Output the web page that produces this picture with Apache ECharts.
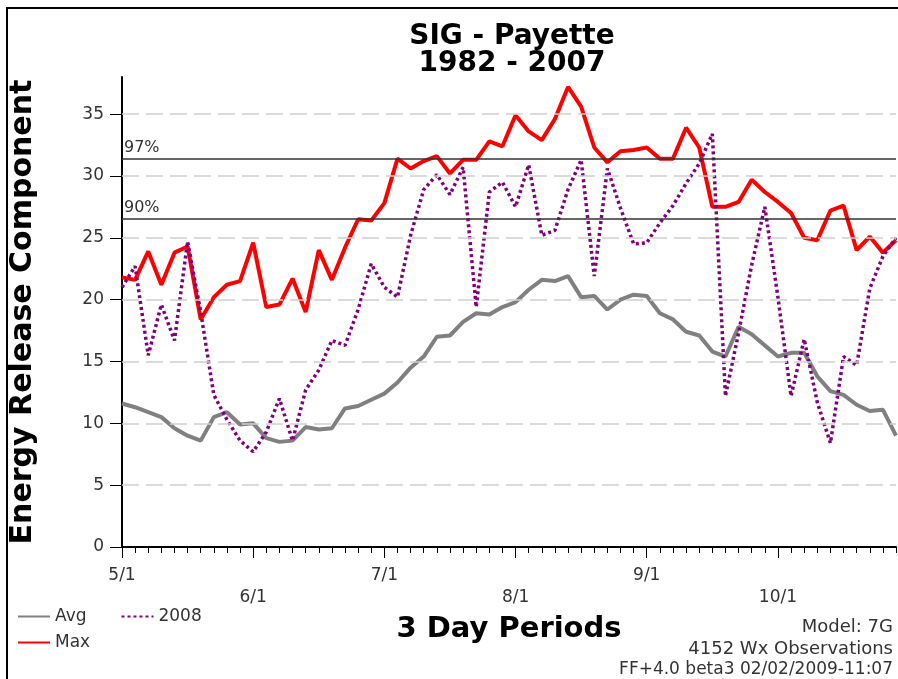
<!DOCTYPE html>
<html>
<head>
<meta charset="utf-8">
<script src="https://cdn.jsdelivr.net/npm/echarts@6/dist/echarts.min.js"></script>
<style>
  html, body { margin: 0; padding: 0; background: #fff; }
  #chart { width: 898px; height: 679px; }
</style>
</head>
<body>
<div id="chart"></div>
<script>
// 3-day periods, May 1 .. end of October
const monthLabels = ["5/1", "6/1", "7/1", "8/1", "9/1", "10/1"];
const periodsPerLabel = 10;

const avg = [11.6, 11.3, 10.9, 10.5, 9.6, 9.0, 8.6, 10.5, 10.9, 9.9,
  10.0, 8.8, 8.5, 8.6, 9.7, 9.5, 9.6, 11.2, 11.4, 11.9,
  12.4, 13.3, 14.5, 15.4, 17.0, 17.1, 18.2, 18.9, 18.8, 19.4,
  19.8, 20.8, 21.6, 21.5, 21.9, 20.2, 20.3, 19.2, 20.0, 20.4,
  20.3, 18.9, 18.4, 17.4, 17.1, 15.8, 15.4, 17.8, 17.2, 16.3,
  15.4, 15.7, 15.7, 13.8, 12.6, 12.3, 11.5, 11.0, 11.1, 9.0];

const max = [21.8, 21.6, 23.9, 21.2, 23.8, 24.3, 18.4, 20.2, 21.2, 21.5,
  24.6, 19.4, 19.6, 21.7, 19.0, 24.0, 21.6, 24.2, 26.5, 26.4,
  27.8, 31.4, 30.6, 31.2, 31.6, 30.2, 31.3, 31.3, 32.8, 32.4,
  34.9, 33.6, 32.9, 34.6, 37.2, 35.6, 32.3, 31.1, 32.0, 32.1,
  32.3, 31.4, 31.4, 33.9, 32.3, 27.5, 27.5, 27.9, 29.7, 28.7,
  27.9, 27.0, 25.0, 24.8, 27.2, 27.6, 24.0, 25.1, 23.8, 24.8];

const y2008 = [21.0, 22.7, 15.5, 19.6, 16.7, 24.7, 19.0, 12.3, 10.3, 8.6,
  7.7, 9.3, 12.0, 8.6, 12.7, 14.3, 16.7, 16.3, 19.2, 22.9,
  21.0, 20.2, 25.2, 28.9, 30.1, 28.5, 30.7, 19.4, 28.7, 29.5,
  27.5, 30.9, 25.2, 25.6, 28.9, 31.3, 21.9, 30.6, 27.4, 24.5,
  24.6, 26.2, 27.6, 29.4, 31.0, 33.4, 12.2, 17.3, 22.8, 27.5,
  20.2, 12.2, 16.8, 11.7, 8.4, 15.4, 14.7, 20.9, 23.5, 25.0];

const yTicks = [0, 5, 10, 15, 20, 25, 30, 35];
const percentiles = [{ name: "97%", value: 31.4 }, { name: "90%", value: 26.5 }];

const periods = avg.map((v, i) => String(i));
const font = "DejaVu Sans";

var myChart = echarts.init(document.getElementById("chart"));

var legendBase = {
  itemWidth: 32,
  itemHeight: 14,
  itemStyle: { opacity: 0 },
  textStyle: { fontFamily: font, fontSize: 17, color: "#333" }
};

var option = {
  backgroundColor: "#fff",
  animation: false,
  title: {
    text: "SIG - Payette\n1982 - 2007",
    left: 507,
    top: 18,
    textAlign: "center",
    textStyle: { fontFamily: font, fontSize: 28, fontWeight: "bold", color: "#000", lineHeight: 27 }
  },
  legend: [
    Object.assign({ data: ["Avg", "2008"], left: 12, top: 603, itemGap: 34 }, legendBase),
    Object.assign({ data: ["Max"], left: 12, top: 629 }, legendBase)
  ],
  grid: { left: 120, right: 2, top: 77, bottom: 132 },
  xAxis: [
    {
      type: "category",
      data: periods,
      boundaryGap: false,
      axisLine: { lineStyle: { color: "#000", width: 2 } },
      axisTick: { interval: 0, length: 6, lineStyle: { color: "#000" } },
      axisLabel: { show: false },
      splitLine: { show: false },
      name: "3 Day Periods",
      nameLocation: "middle",
      nameGap: 68,
      nameTextStyle: { fontFamily: font, fontSize: 29, fontWeight: "bold", color: "#000" }
    },
    {
      type: "category",
      data: periods,
      position: "bottom",
      boundaryGap: false,
      axisLine: { show: false },
      axisTick: { interval: periodsPerLabel - 1, length: 11, lineStyle: { color: "#000" } },
      axisLabel: {
        interval: periodsPerLabel - 1,
        margin: 18,
        fontFamily: font,
        fontSize: 17,
        color: "#333",
        lineHeight: 22,
        formatter: function (v, i) {
          var k = Math.round(i / periodsPerLabel);
          var t = monthLabels[k] || "";
          return k % 2 === 1 ? "\n" + t : t;
        }
      },
      splitLine: { show: false }
    }
  ],
  yAxis: {
    type: "value",
    min: 0,
    max: 38,
    interval: 5,
    name: "Energy Release Component",
    nameLocation: "middle",
    nameRotate: 90,
    nameGap: 84,
    nameTextStyle: { fontFamily: font, fontSize: 30, fontWeight: "bold", color: "#000" },
    axisLine: { show: true, lineStyle: { color: "#000", width: 2 } },
    axisTick: { show: true, length: 12, customValues: yTicks, lineStyle: { color: "#000" } },
    axisLabel: { margin: 18, customValues: yTicks, fontFamily: font, fontSize: 17, color: "#333" },
    splitLine: { show: false }
  },
  series: [
    {
      name: "Avg",
      type: "line",
      data: avg,
      symbol: "none",
      color: "#808080",
      lineStyle: { color: "#808080", width: 4 },
      markLine: {
        silent: true,
        symbol: "none",
        label: { show: false },
        lineStyle: { color: "#cfcfcf", type: [17, 7], width: 1.5 },
        data: yTicks.filter(v => v > 0).map(v => ({ yAxis: v }))
      }
    },
    {
      name: "Max",
      type: "line",
      data: max,
      symbol: "none",
      color: "#ff0000",
      lineStyle: { color: "#ff0000", width: 4 },
      markLine: {
        silent: true,
        symbol: "none",
        lineStyle: { color: "#333", type: "solid", width: 1.5 },
        label: {
          position: "insideStartTop",
          formatter: "{b}",
          distance: [2, 3],
          fontFamily: font,
          fontSize: 16,
          color: "#333"
        },
        data: percentiles.map(p => ({ name: p.name, yAxis: p.value }))
      }
    },
    {
      name: "2008",
      type: "line",
      data: y2008,
      symbol: "none",
      color: "#800080",
      lineStyle: { color: "#800080", width: 3.5, type: [3, 3] }
    }
  ],
  graphic: [
    {
      type: "rect",
      shape: { x: 7, y: 8, width: 900, height: 700 },
      style: { fill: "none", stroke: "#000", lineWidth: 2 },
      silent: true
    },
    {
      type: "text", right: 5, top: 618,
      style: { text: "Model: 7G", fontFamily: font, fontSize: 18, fill: "#333" }
    },
    {
      type: "text", right: 5, top: 640,
      style: { text: "4152 Wx Observations", fontFamily: font, fontSize: 18, fill: "#333" }
    },
    {
      type: "text", right: 5, top: 661,
      style: { text: "FF+4.0 beta3 02/02/2009-11:07", fontFamily: font, fontSize: 17, fill: "#333" }
    }
  ]
};

myChart.setOption(option);
</script>
</body>
</html>
